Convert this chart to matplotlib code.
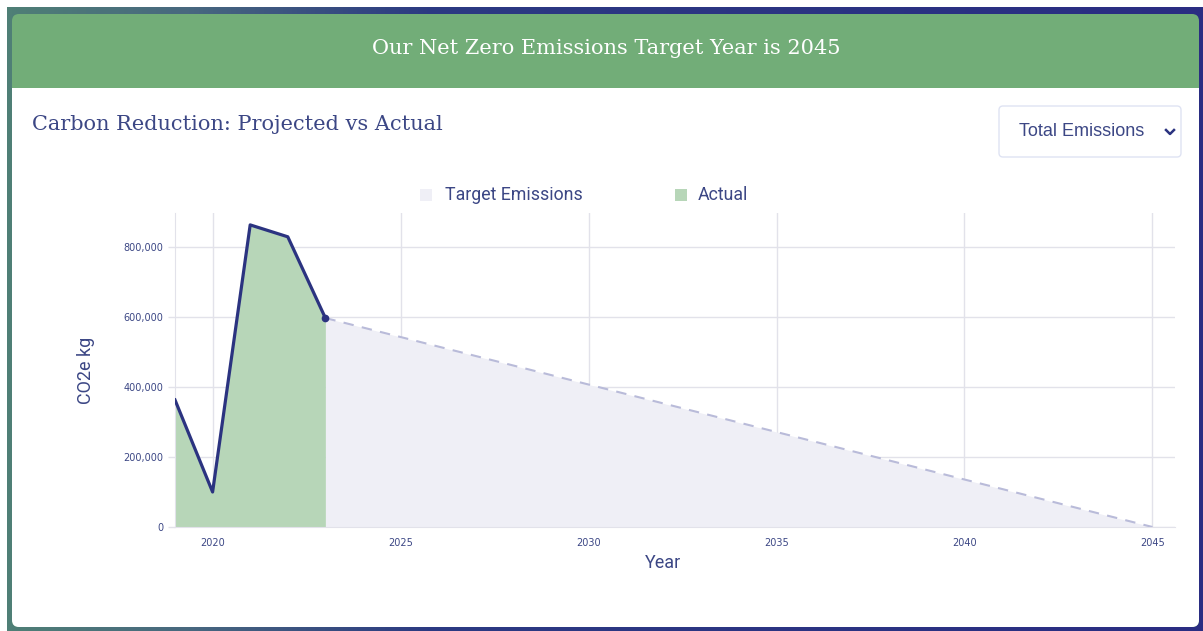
import numpy as np
import matplotlib.pyplot as plt
from matplotlib.patches import FancyBboxPatch, Rectangle
from matplotlib.colors import LinearSegmentedColormap
from matplotlib.ticker import FuncFormatter

# data
actual_years = [2019, 2020, 2021, 2022, 2023]
actual_kg = [363000, 100000, 863000, 829000, 597000]
target_years = [2023, 2045]
target_kg = [597000, 0]
x_ticks = [2020, 2025, 2030, 2035, 2040, 2045]
y_ticks = [0, 200000, 400000, 600000, 800000]

header_text = "Our Net Zero Emissions Target Year is 2045"
card_title = "Carbon Reduction: Projected vs Actual"
dropdown_text = "Total Emissions"

NAVY = "#2b3380"
TEXT = "#3c4785"
GREEN_FILL = "#b7d6b8"
TARGET_FILL = "#efeff6"
GRID = "#e2e2ea"

W, H = 1203, 631
fig = plt.figure(figsize=(W / 100, H / 100), dpi=100)

# background in pixel coordinates
bg = fig.add_axes([0, 0, 1, 1])
bg.set_xlim(0, W)
bg.set_ylim(H, 0)
bg.axis("off")

# gradient frame, white margin at top and left
grad = np.linspace(0, 1, 256).reshape(1, -1)
cmap = LinearSegmentedColormap.from_list(
    "edge", [(0, "#4f7f76"), (0.15, "#48687f"), (0.35, "#2c3a82"), (1, "#2a2d82")])
bg.imshow(grad, extent=[7, W, H, 7], aspect="auto", cmap=cmap, zorder=0)

# card: green header then white body
card_l, card_r = 12, 1199
bg.add_patch(FancyBboxPatch((card_l, 14), card_r - card_l, 613,
                            boxstyle="round,pad=0,rounding_size=7",
                            facecolor="#72ad78", edgecolor="none", zorder=1))
bg.add_patch(FancyBboxPatch((card_l, 88), card_r - card_l, 539,
                            boxstyle="round,pad=0,rounding_size=7",
                            facecolor="white", edgecolor="none", zorder=2))
bg.add_patch(Rectangle((card_l, 88), card_r - card_l, 20, facecolor="white",
                       edgecolor="none", zorder=2))

bg.text(606, 49, header_text, ha="center", va="center", color="white",
        fontsize=15, family="DejaVu Serif", zorder=3)
bg.text(32, 124, card_title, ha="left", va="center", color=TEXT,
        fontsize=15, family="DejaVu Serif", zorder=3)

# dropdown
bg.add_patch(FancyBboxPatch((999, 106), 182, 51, boxstyle="round,pad=0,rounding_size=4",
                            facecolor="white", edgecolor="#dfe3f3", linewidth=1, zorder=3))
bg.text(1019, 132, dropdown_text, ha="left", va="center", color=TEXT,
        fontsize=13, family="Liberation Sans", zorder=4)
bg.plot([1166, 1170, 1174], [130, 134, 130], color=NAVY, linewidth=1.8, zorder=4)

# legend
bg.add_patch(Rectangle((420, 189), 12, 12, facecolor=TARGET_FILL, edgecolor="none", zorder=3))
bg.text(445, 195, "Target Emissions", ha="left", va="center", color=TEXT,
        fontsize=12.8, family="Roboto", zorder=4)
bg.add_patch(Rectangle((675, 189), 12, 12, facecolor=GREEN_FILL, edgecolor="none", zorder=3))
bg.text(698, 195, "Actual", ha="left", va="center", color=TEXT,
        fontsize=12.8, family="Roboto", zorder=4)

# chart
ax = fig.add_axes([175 / W, 1 - 527 / H, 1000 / W, 314 / H])
ax.set_facecolor("none")
ax.fill_between(target_years, target_kg, color=TARGET_FILL, linewidth=0, zorder=1)
ax.plot(target_years, target_kg, color="#b9bbd9", linewidth=1.5, linestyle=(0, (5, 4)), zorder=3)
ax.fill_between(actual_years, actual_kg, color=GREEN_FILL, linewidth=0, zorder=2)
ax.plot(actual_years, actual_kg, color=NAVY, linewidth=2.3, zorder=4)
ax.plot(actual_years[-1:], actual_kg[-1:], "o", color=NAVY, markersize=4.5, zorder=5)

ax.set_xlim(2019, 2045.6)
ax.set_ylim(0, 897000)
ax.set_xticks(x_ticks)
ax.set_yticks(y_ticks)
ax.yaxis.set_major_formatter(FuncFormatter(lambda v, p: f"{int(v):,}"))
ax.grid(True, color=GRID, linewidth=1, zorder=0)
ax.set_axisbelow(True)
for s in ["top", "right"]:
    ax.spines[s].set_visible(False)
for s in ["left", "bottom"]:
    ax.spines[s].set_color(GRID)
ax.tick_params(axis="both", colors=GRID, labelcolor=TEXT, labelsize=7, length=5, width=1)
ax.tick_params(axis="x", length=0, pad=8)
ax.set_xlabel("Year", color=TEXT, fontsize=13, family="Roboto", labelpad=3)
ax.xaxis.set_label_coords(0.488, -0.085)
ax.set_ylabel("CO2e kg", color=TEXT, fontsize=13, family="Roboto", labelpad=20)

fig.savefig("out.png", dpi=100)
